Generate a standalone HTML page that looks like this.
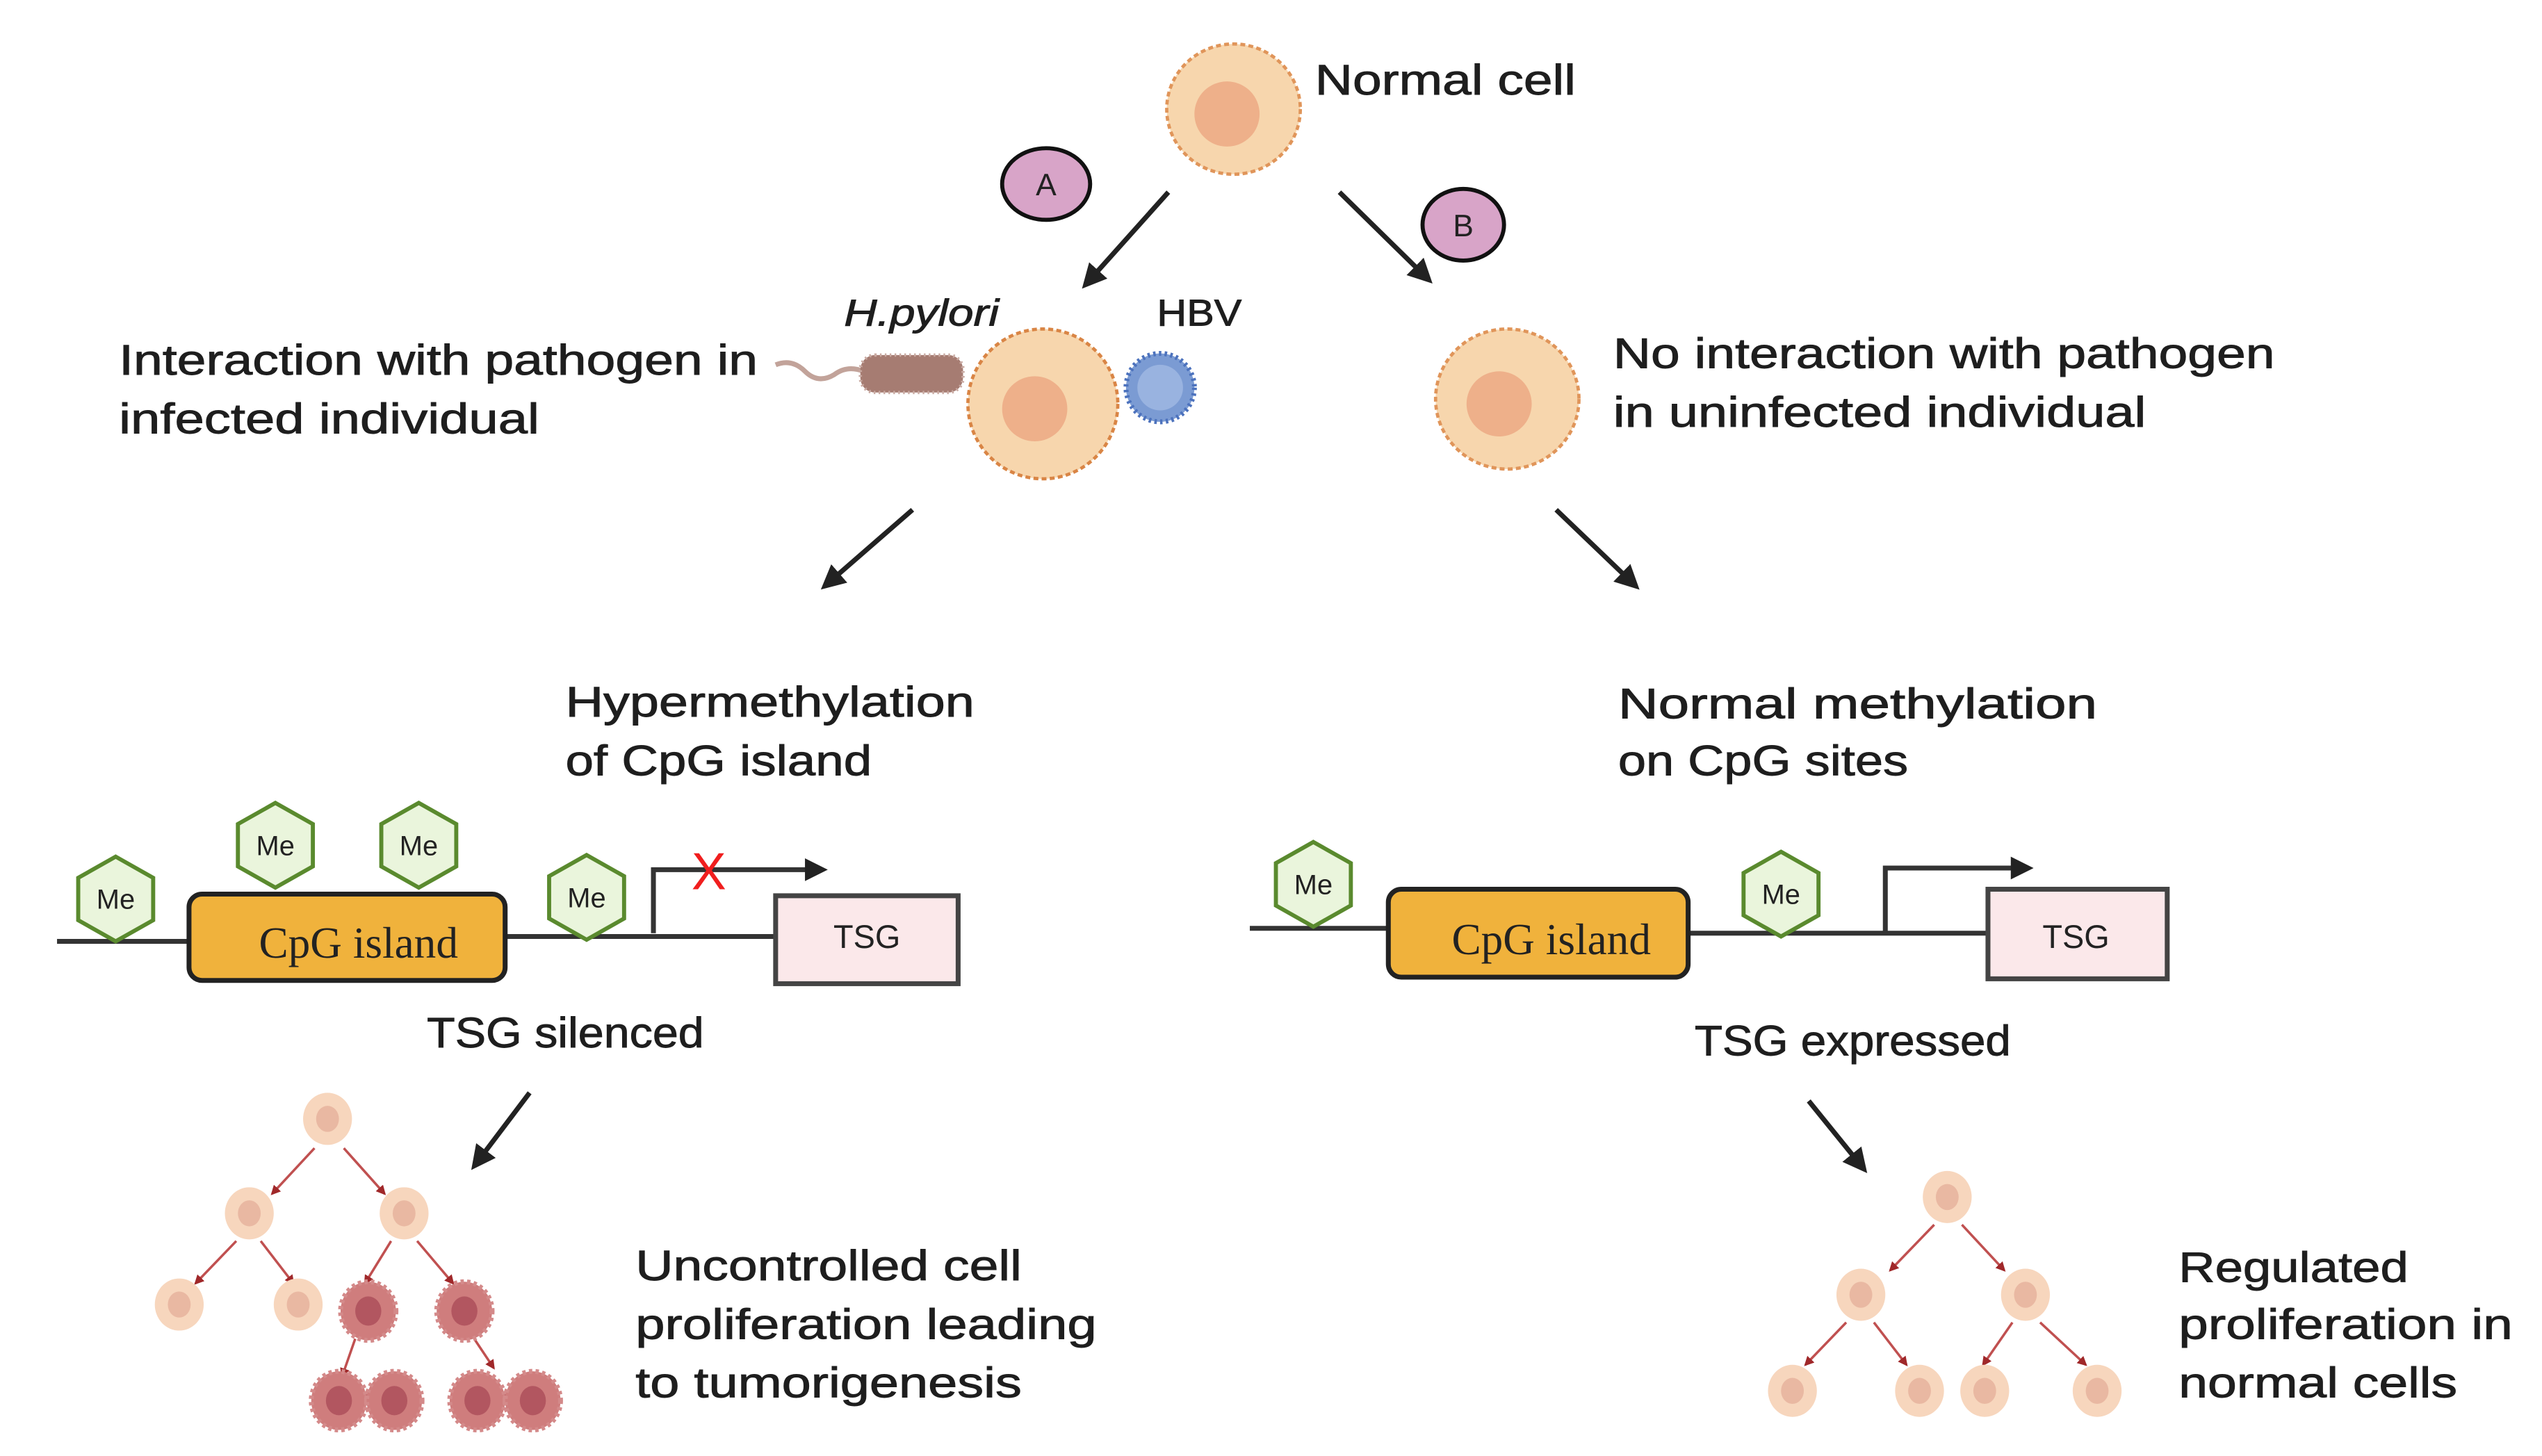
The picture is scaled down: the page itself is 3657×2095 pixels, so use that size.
<!DOCTYPE html>
<html><head><meta charset="utf-8"><style>html,body{margin:0;padding:0;background:#fff}svg{display:block}</style></head>
<body>
<svg width="3657" height="2095" viewBox="0 0 1560 894" preserveAspectRatio="none" xmlns="http://www.w3.org/2000/svg">
<defs>
<marker id="ah" viewBox="0 0 10 10" refX="8" refY="5" markerWidth="5" markerHeight="5" orient="auto"><path d="M0,0 L10,5 L0,10 z" fill="#222"/></marker>
<marker id="rh" viewBox="0 0 10 10" refX="8" refY="5" markerWidth="4" markerHeight="4" orient="auto"><path d="M0,0 L10,5 L0,10 z" fill="#a0282a"/></marker>
<g id="hex"><polygon points="0,-26 23,-13 23,13 0,26 -23,13 -23,-13" fill="#eaf5dc" stroke="#5a8a2e" stroke-width="2.5"/><text x="0" y="6" font-size="17" text-anchor="middle" fill="#222" font-family="Liberation Sans Narrow, Liberation Sans, sans-serif">Me</text></g>
<g id="pc"><ellipse cx="0" cy="0" rx="15" ry="16" fill="#f7d6bd"/><ellipse cx="0" cy="0" rx="7" ry="8" fill="#e9b8a2"/></g>
<g id="tc"><ellipse cx="0" cy="0" rx="17" ry="18" fill="#cf7d7d" stroke="#d48a8a" stroke-width="3" stroke-dasharray="2 2"/><ellipse cx="0" cy="0" rx="8" ry="9" fill="#b25660"/></g>
</defs>
<g font-family="Liberation Sans, sans-serif" fill="#1e1e1e" stroke="#1e1e1e" stroke-width="0.4" font-size="26">
<text x="807" y="58" textLength="160" lengthAdjust="spacingAndGlyphs">Normal cell</text>
<text x="73" y="230" textLength="392" lengthAdjust="spacingAndGlyphs">Interaction with pathogen in</text>
<text x="73" y="266" textLength="258" lengthAdjust="spacingAndGlyphs">infected individual</text>
<text x="990" y="226" textLength="406" lengthAdjust="spacingAndGlyphs">No interaction with pathogen</text>
<text x="990" y="262" textLength="327" lengthAdjust="spacingAndGlyphs">in uninfected individual</text>
<text x="518" y="200" font-style="italic" font-size="23" textLength="95" lengthAdjust="spacingAndGlyphs">H.pylori</text>
<text x="710" y="200" font-size="23" textLength="52" lengthAdjust="spacingAndGlyphs">HBV</text>
<text x="347" y="440" textLength="251" lengthAdjust="spacingAndGlyphs">Hypermethylation</text>
<text x="347" y="476" textLength="188" lengthAdjust="spacingAndGlyphs">of CpG island</text>
<text x="993" y="441" textLength="294" lengthAdjust="spacingAndGlyphs">Normal   methylation</text>
<text x="993" y="476" textLength="178" lengthAdjust="spacingAndGlyphs">on CpG sites</text>
<text x="262" y="643" textLength="170" lengthAdjust="spacingAndGlyphs">TSG silenced</text>
<text x="1040" y="648" textLength="194" lengthAdjust="spacingAndGlyphs">TSG expressed</text>
<text x="390" y="786" textLength="237" lengthAdjust="spacingAndGlyphs">Uncontrolled cell</text>
<text x="390" y="822" textLength="283" lengthAdjust="spacingAndGlyphs">proliferation leading</text>
<text x="390" y="858" textLength="237" lengthAdjust="spacingAndGlyphs">to tumorigenesis</text>
<text x="1337" y="787" textLength="141" lengthAdjust="spacingAndGlyphs">Regulated</text>
<text x="1337" y="822" textLength="205" lengthAdjust="spacingAndGlyphs">proliferation in</text>
<text x="1337" y="858" textLength="171" lengthAdjust="spacingAndGlyphs">normal cells</text>
</g>
<!-- cells -->
<ellipse cx="757" cy="67" rx="41" ry="40" fill="#f7d6ad" stroke="#e0955a" stroke-width="2" stroke-dasharray="3 2"/>
<ellipse cx="753" cy="70" rx="20" ry="20" fill="#eeb08a"/>
<ellipse cx="640" cy="248" rx="46" ry="46" fill="#f7d6ad" stroke="#d98545" stroke-width="2" stroke-dasharray="3 2"/>
<ellipse cx="635" cy="251" rx="20" ry="20" fill="#eeb08a"/>
<ellipse cx="925" cy="245" rx="44" ry="43" fill="#f7d6ad" stroke="#e0955a" stroke-width="2" stroke-dasharray="3 2"/>
<ellipse cx="920" cy="248" rx="20" ry="20" fill="#eeb08a"/>
<!-- bacterium -->
<path d="M476,224 q10,-4 18,4 q8,8 18,2 q8,-6 18,-2" fill="none" stroke="#c2a39a" stroke-width="3"/>
<rect x="528" y="218" width="63" height="23" rx="9" fill="#a67c72" stroke="#c9aaa2" stroke-width="2" stroke-dasharray="1 2"/>
<!-- HBV -->
<circle cx="712" cy="238" r="21" fill="#7b9bd3" stroke="#4c72bd" stroke-width="3" stroke-dasharray="1.5 2"/>
<circle cx="712" cy="238" r="14" fill="#a7bde5" opacity="0.7"/>
<!-- A B -->
<ellipse cx="642" cy="113" rx="27" ry="22" fill="#d8a4c8" stroke="#111" stroke-width="2.5"/>
<text x="642" y="120" font-family="Liberation Sans, sans-serif" font-size="19" text-anchor="middle" fill="#222">A</text>
<ellipse cx="898" cy="138" rx="25" ry="22" fill="#d8a4c8" stroke="#111" stroke-width="2.5"/>
<text x="898" y="145" font-family="Liberation Sans, sans-serif" font-size="19" text-anchor="middle" fill="#222">B</text>
<!-- arrows -->
<g stroke="#222" stroke-width="3" fill="none" marker-end="url(#ah)">
<line x1="717" y1="118" x2="666" y2="175"/>
<line x1="822" y1="118" x2="877" y2="172"/>
<line x1="560" y1="313" x2="506" y2="360"/>
<line x1="955" y1="313" x2="1004" y2="360"/>
<line x1="325" y1="671" x2="291" y2="716"/>
<line x1="1110" y1="676" x2="1144" y2="718"/>
</g>
<!-- left DNA -->
<line x1="35" y1="578" x2="118" y2="578" stroke="#333" stroke-width="3"/>
<line x1="308" y1="575" x2="477" y2="575" stroke="#333" stroke-width="3"/>
<rect x="116" y="549" width="194" height="53" rx="8" fill="#f0b23c" stroke="#222" stroke-width="3"/>
<text x="220" y="588" font-family="Liberation Serif, serif" font-size="27" text-anchor="middle" fill="#222">CpG island</text>
<rect x="476" y="550" width="112" height="54" fill="#fbe8ea" stroke="#444" stroke-width="3"/>
<text x="532" y="582" font-family="Liberation Sans, sans-serif" font-size="20" text-anchor="middle" fill="#222">TSG</text>
<path d="M401,573 V534 H495" fill="none" stroke="#333" stroke-width="3"/>
<path d="M494,527 L508,534 L494,541 z" fill="#222"/>
<text x="435" y="546" font-family="Liberation Sans, sans-serif" font-size="32" text-anchor="middle" fill="#f01e1e">X</text>
<use href="#hex" x="71" y="552"/><use href="#hex" x="169" y="519"/><use href="#hex" x="257" y="519"/><use href="#hex" x="360" y="551"/>
<!-- right DNA -->
<line x1="767" y1="570" x2="854" y2="570" stroke="#333" stroke-width="3"/>
<line x1="1034" y1="573" x2="1222" y2="573" stroke="#333" stroke-width="3"/>
<rect x="852" y="546" width="184" height="54" rx="8" fill="#f0b23c" stroke="#222" stroke-width="3"/>
<text x="952" y="586" font-family="Liberation Serif, serif" font-size="27" text-anchor="middle" fill="#222">CpG island</text>
<rect x="1220" y="546" width="110" height="55" fill="#fbe8ea" stroke="#444" stroke-width="3"/>
<text x="1274" y="582" font-family="Liberation Sans, sans-serif" font-size="20" text-anchor="middle" fill="#222">TSG</text>
<path d="M1157,573 V533 H1235" fill="none" stroke="#333" stroke-width="3"/>
<path d="M1234,526 L1248,533 L1234,540 z" fill="#222"/>
<use href="#hex" x="806" y="543"/><use href="#hex" x="1093" y="549"/>
<!-- left tree -->
<g stroke="#c05050" stroke-width="1.5" marker-end="url(#rh)">
<line x1="193" y1="705" x2="167" y2="733"/><line x1="211" y1="705" x2="236" y2="733"/>
<line x1="145" y1="762" x2="120" y2="788"/><line x1="160" y1="762" x2="180" y2="788"/>
<line x1="240" y1="762" x2="224" y2="788"/><line x1="256" y1="762" x2="278" y2="788"/>
<line x1="218" y1="822" x2="210" y2="845"/><line x1="291" y1="822" x2="303" y2="840"/>
<line x1="1187" y1="752" x2="1160" y2="780"/><line x1="1204" y1="752" x2="1230" y2="780"/>
<line x1="1133" y1="812" x2="1108" y2="838"/><line x1="1150" y1="812" x2="1170" y2="838"/>
<line x1="1235" y1="812" x2="1217" y2="838"/><line x1="1252" y1="812" x2="1280" y2="838"/>
</g>
<use href="#pc" x="201" y="687"/><use href="#pc" x="153" y="745"/><use href="#pc" x="248" y="745"/>
<use href="#pc" x="110" y="801"/><use href="#pc" x="183" y="801"/>
<use href="#tc" x="226" y="805"/><use href="#tc" x="285" y="805"/>
<rect x="210" y="855" width="32" height="8" fill="#c06a6e"/><rect x="295" y="855" width="30" height="8" fill="#c06a6e"/>
<use href="#tc" x="208" y="860"/><use href="#tc" x="242" y="860"/><use href="#tc" x="293" y="860"/><use href="#tc" x="327" y="860"/>
<!-- right tree -->
<use href="#pc" x="1195" y="735"/><use href="#pc" x="1142" y="795"/><use href="#pc" x="1243" y="795"/>
<use href="#pc" x="1100" y="854"/><use href="#pc" x="1178" y="854"/><use href="#pc" x="1218" y="854"/><use href="#pc" x="1287" y="854"/>
</svg>
</body></html>
